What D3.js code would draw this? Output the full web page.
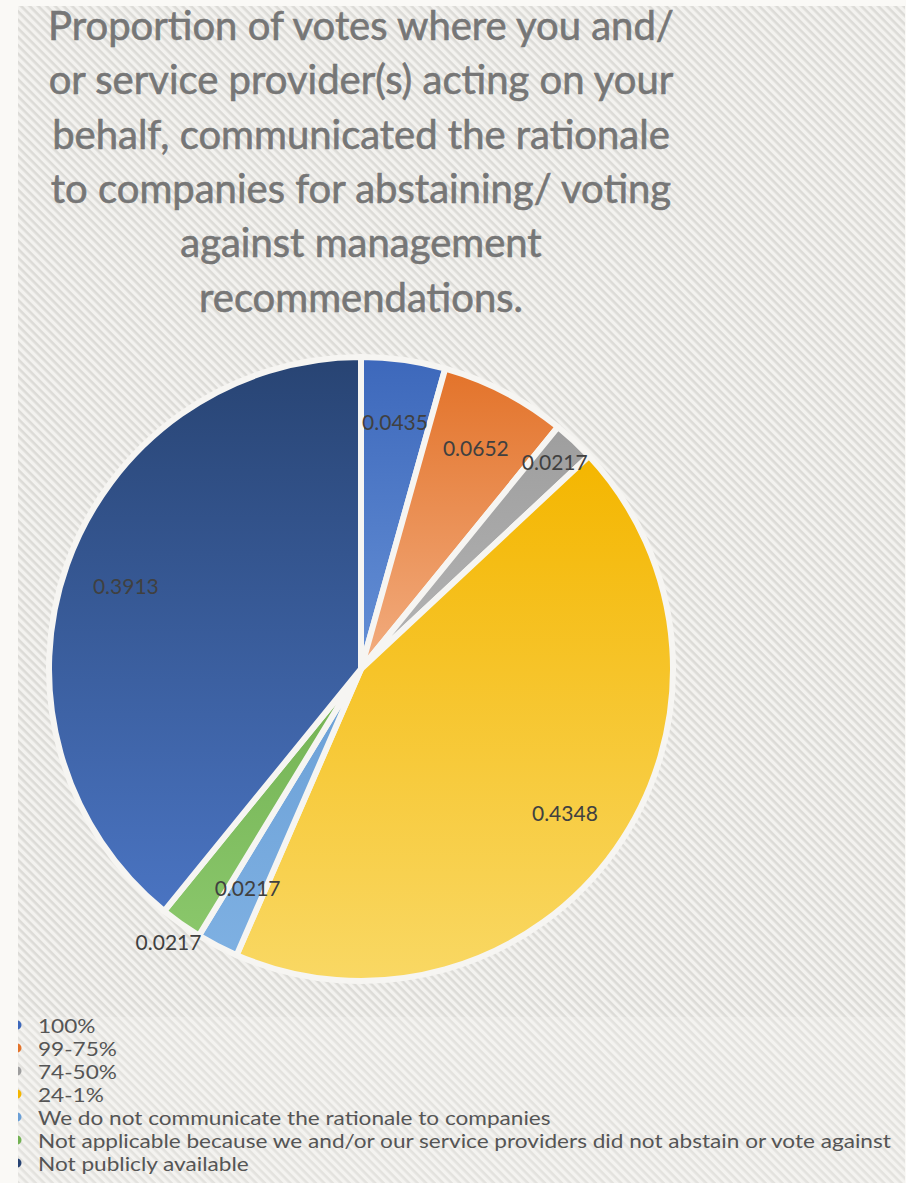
<!DOCTYPE html>
<html>
<head>
<meta charset="utf-8">
<script src="https://cdn.jsdelivr.net/npm/d3@7"></script>
<style>
  html, body { margin: 0; padding: 0; background: #faf9f6; }
  svg { display: block; }
</style>
</head>
<body>
<svg id="chart" width="906" height="1183"></svg>
<script>
// Survey responses: share of votes where the rationale was communicated
const categories = [
  "100%",
  "99-75%",
  "74-50%",
  "24-1%",
  "We do not communicate the rationale to companies",
  "Not applicable because we and/or our service providers did not abstain or vote against",
  "Not publicly available"
];
const values = [0.0435, 0.0652, 0.0217, 0.4348, 0.0217, 0.0217, 0.3913];
const valueLabels = ["0.0435", "0.0652", "0.0217", "0.4348", "0.0217", "0.0217", "0.3913"];
const titleLines = [
  "Proportion of votes where you and/",
  "or service provider(s) acting on your",
  "behalf, communicated the rationale",
  "to companies for abstaining/ voting",
  "against management",
  "recommendations."
];

// Slice colours: darker at the top, lighter toward the bottom
const colorTop    = ["#3d68bb", "#e3732a", "#9e9e9e", "#f4b600", "#6a9fd6", "#72b152", "#284473"];
const colorBottom = ["#6590d6", "#f2ad80", "#b4b4b4", "#f9d864", "#7eb0e2", "#8ac76b", "#4a74c2"];

const svg = d3.select("#chart");
const W = 906, H = 1183;
const defs = svg.append("defs");

// Diagonal hatch backgrounds (stripes running top-left to bottom-right)
function hatch(id, bg, line) {
  const p = defs.append("pattern")
    .attr("id", id)
    .attr("patternUnits", "userSpaceOnUse")
    .attr("width", 6).attr("height", 6)
    .attr("patternTransform", "rotate(45)");
  p.append("rect").attr("width", 6).attr("height", 6).attr("fill", bg);
  p.append("rect").attr("width", 6).attr("height", 2.6).attr("fill", line);
}
hatch("hatchPlot", "#f3f2ef", "#dcdbd7");
hatch("hatchLegend", "#f4f3f0", "#e3e2de");

const area = { x: 18, y: 6, w: W - 18 - 1, h: H - 6 };
svg.append("rect")
  .attr("x", area.x).attr("y", area.y)
  .attr("width", area.w).attr("height", area.h)
  .attr("fill", "url(#hatchLegend)");
svg.append("rect")
  .attr("x", area.x).attr("y", area.y)
  .attr("width", area.w).attr("height", 1011)
  .attr("fill", "url(#hatchPlot)");

defs.append("clipPath").attr("id", "areaClip")
  .append("rect")
  .attr("x", area.x).attr("y", area.y)
  .attr("width", area.w).attr("height", area.h);

// Title
const title = svg.append("text")
  .attr("x", 361)
  .attr("text-anchor", "middle")
  .attr("font-family", "Lato, 'Open Sans', sans-serif")
  .attr("font-weight", 400)
  .attr("font-size", 40)
  .attr("fill", "#767676")
  .attr("stroke", "#767676")
  .attr("stroke-width", 0.6);
title.selectAll("tspan")
  .data(titleLines)
  .join("tspan")
  .attr("x", 361)
  .attr("y", (d, i) => 40 + i * 54.3)
  .text(d => d);

// Pie
const cx = 361, cy = 669, R = 312;
const pie = d3.pie().sort(null).value(d => d.value);
const arcs = pie(values.map((v, i) => ({ value: v, label: valueLabels[i], name: categories[i], i })));
const arc = d3.arc().innerRadius(0).outerRadius(R);

arcs.forEach((a, i) => {
  const g = defs.append("linearGradient")
    .attr("id", "grad" + i)
    .attr("x1", 0).attr("y1", 0).attr("x2", 0).attr("y2", 1);
  g.append("stop").attr("offset", "0%").attr("stop-color", colorTop[i]);
  g.append("stop").attr("offset", "100%").attr("stop-color", colorBottom[i]);
});

const pieG = svg.append("g").attr("transform", `translate(${cx},${cy})`);
pieG.selectAll("path.slice")
  .data(arcs)
  .join("path")
  .attr("class", "slice")
  .attr("d", arc)
  .attr("fill", d => `url(#grad${d.data.i})`)
  .attr("stroke", "#f6f5f2")
  .attr("stroke-width", 6)
  .attr("stroke-linejoin", "round");

// Data labels, mostly at 80% of the radius; the thin slices are nudged outward
const labelRadiusFactor = [0.8, 0.8, 0.91, 0.8, 0.79, 1.07, 0.8];
pieG.selectAll("text.val")
  .data(arcs)
  .join("text")
  .attr("class", "val")
  .attr("transform", d => {
    const a = (d.startAngle + d.endAngle) / 2;
    const r = R * labelRadiusFactor[d.data.i];
    return `translate(${Math.sin(a) * r},${-Math.cos(a) * r})`;
  })
  .attr("text-anchor", "middle")
  .attr("dominant-baseline", "central")
  .attr("font-family", "Lato, 'Open Sans', sans-serif")
  .attr("font-size", 21)
  .attr("fill", "#404040")
  .text(d => d.data.label);

// Legend (text slightly widened horizontally, rows packed tightly)
const legend = svg.append("g").attr("clip-path", "url(#areaClip)");
const rowY = d3.scalePoint().domain(d3.range(categories.length)).range([1025, 1163]);
const lg = legend.selectAll("g.item")
  .data(categories)
  .join("g")
  .attr("class", "item")
  .attr("transform", (d, i) => `translate(0,${rowY(i)})`);
lg.append("circle")
  .attr("cx", 17).attr("cy", 0).attr("r", 4.5)
  .attr("fill", (d, i) => colorTop[i]);
lg.append("text")
  .attr("transform", "translate(38,0) scale(1.19,1)")
  .attr("dominant-baseline", "central")
  .attr("font-family", "Lato, 'Open Sans', sans-serif")
  .attr("font-size", 19)
  .attr("fill", "#555555")
  .text(d => d);
</script>
</body>
</html>
